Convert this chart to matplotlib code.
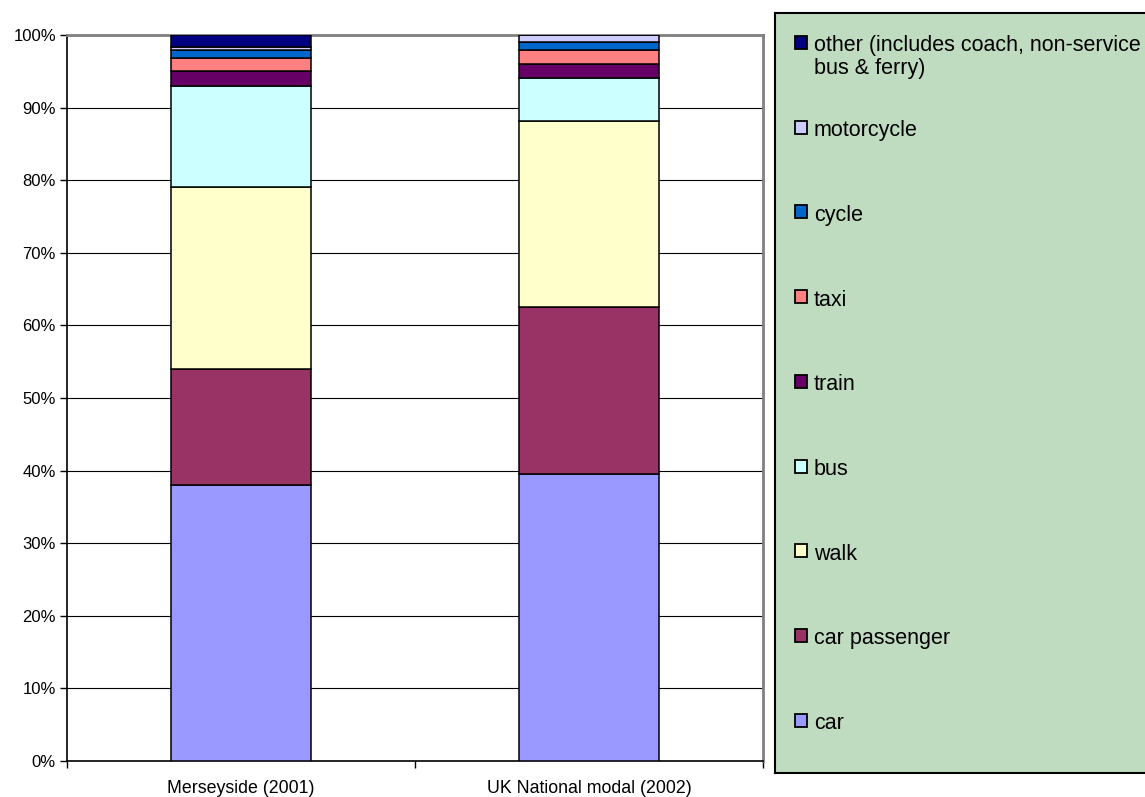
import matplotlib.pyplot as plt
from matplotlib.patches import Rectangle

plt.rcParams['font.family'] = ['Liberation Sans', 'DejaVu Sans']

wilayah = ['Merseyside (2001)', 'UK National modal (2002)']
moda = ['car', 'car passenger', 'walk', 'bus', 'train', 'taxi', 'cycle',
        'motorcycle', 'other (includes coach, non-service\nbus & ferry)']
warna = ['#9999FF', '#993366', '#FFFFCC', '#CCFFFF', '#660066', '#FF8080',
         '#0066CC', '#CCCCFF', '#000080']

# persen per moda, urutan sama dengan daftar moda
merseyside = [38.0, 16.0, 25.0, 14.0, 2.0, 1.8, 1.1, 0.5, 1.6]
nasional = [39.5, 23.0, 25.6, 6.0, 1.9, 2.0, 1.1, 0.9, 0.0]

W, H = 1145, 797
fig = plt.figure(figsize=(W / 100, H / 100), dpi=100)
ax = fig.add_axes([67 / W, 1 - 761 / H, (763 - 67) / W, (761 - 35) / H])

posisi = [0.5, 1.5]
bawah = [0.0, 0.0]
for i in range(len(moda)):
    nilai = [merseyside[i], nasional[i]]
    ax.bar(posisi, nilai, width=0.4, bottom=bawah, color=warna[i],
           edgecolor='black', linewidth=1.1, zorder=3)
    bawah = [b + v for b, v in zip(bawah, nilai)]

ax.set_xlim(0, 2)
ax.set_ylim(0, 100)
ax.set_yticks(range(0, 101, 10))
ax.set_yticklabels([f'{t}%' for t in range(0, 101, 10)], fontsize=12)
for t in range(10, 100, 10):
    ax.axhline(t, color='black', linewidth=0.8, zorder=1)

ax.set_xticks([0, 1, 2])
ax.set_xticklabels([])
ax.set_xticks(posisi, minor=True)
ax.set_xticklabels(wilayah, minor=True, fontsize=12.8)
ax.tick_params(axis='x', which='minor', length=0, pad=14)
ax.tick_params(axis='both', which='major', length=5, width=1, color='black')
ax.tick_params(axis='y', pad=3)

for sisi in ['left', 'bottom']:
    ax.spines[sisi].set_color('black')
    ax.spines[sisi].set_linewidth(1.2)
for sisi in ['top', 'right']:
    ax.spines[sisi].set_color('#808080')
    ax.spines[sisi].set_linewidth(2)

# kotak legenda di sebelah kanan
lg = fig.add_axes([775 / W, 1 - 773 / H, (1152 - 775) / W, (773 - 13) / H])
lg.set_xlim(775, 1152)
lg.set_ylim(773, 13)
lg.set_facecolor('#C0DCC0')
lg.set_xticks([])
lg.set_yticks([])
for s in lg.spines.values():
    s.set_color('black')
    s.set_linewidth(1.5)

for j, i in enumerate(reversed(range(len(moda)))):
    yc = 42.5 + j * 84.7
    lg.add_patch(Rectangle((795, yc - 6.5), 12, 13, facecolor=warna[i],
                           edgecolor='black', linewidth=1.3))
    lg.text(814, yc - 7, moda[i], fontsize=15.5, va='top', ha='left',
            linespacing=1.12)

fig.savefig('out.png', dpi=100)
